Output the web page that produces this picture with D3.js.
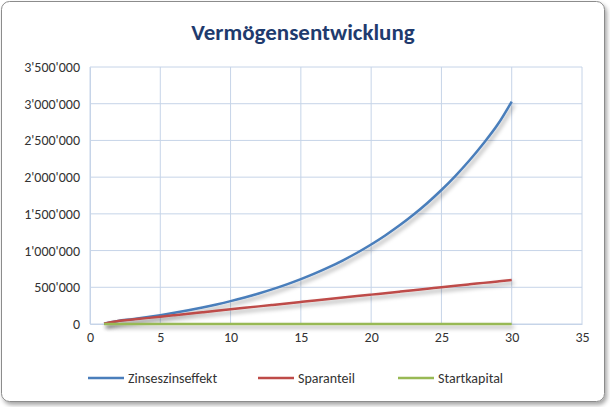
<!DOCTYPE html>
<html><head><meta charset="utf-8">
<script src="https://cdn.jsdelivr.net/npm/d3@7"></script>
<style>body{margin:0;background:#fff;font-family:Calibri,"Liberation Sans","Open Sans",sans-serif}</style>
</head><body><svg id="c" width="610" height="407"></svg>
<script>
const years = d3.range(1,31);
const zinseszins = [5000,41900,65880,92140,120900,152390,186870,224630,265970,311240,360810,415090,474530,539610,610880,688920,774370,867930,970380,1082570,1205410,1339930,1487220,1648510,1825120,2018510,2230270,2462150,2716050,3030000];
const sparanteil = [5000,40000,60000,80000,100000,120000,140000,160000,180000,200000,220000,240000,260000,280000,300000,320000,340000,360000,380000,400000,420000,440000,460000,480000,500000,520000,540000,560000,580000,600000];
const startkapital = [0,0,0,0,0,0,0,0,0,0,0,0,0,0,0,0,0,0,0,0,0,0,0,0,0,0,0,0,0,0];
const seriesNames = ["Zinseszinseffekt","Sparanteil","Startkapital"];
const colors = ["#4A7EBB","#BE4B48","#98B954"];
const xTicks = [0,5,10,15,20,25,30,35];
const yTicks = [0,500000,1000000,1500000,2000000,2500000,3000000,3500000];
const fmt = v => d3.format(",")(v).replace(/,/g,"'");

const svg = d3.select("#c");
const defs = svg.append("defs");
const f = defs.append("filter").attr("id","sh").attr("filterUnits","userSpaceOnUse")
  .attr("x",0).attr("y",0).attr("width",610).attr("height",407);
f.append("feDropShadow").attr("dx",2).attr("dy",3).attr("stdDeviation",2).attr("flood-color","#000").attr("flood-opacity",0.35);
svg.append("rect").attr("x",1.5).attr("y",1.5).attr("width",603).attr("height",400).attr("rx",8)
  .attr("fill","#fff").attr("stroke","#8c8c8c").attr("filter","url(#sh)");

const x = d3.scaleLinear().domain([0,35]).range([90,582]);
const y = d3.scaleLinear().domain([0,3500000]).range([324,67]);

svg.append("text").attr("x",303).attr("y",40).attr("text-anchor","middle")
  .attr("font-size",23).attr("font-weight","bold").attr("fill","#1F3B6E").text("Vermögensentwicklung");

svg.append("g").selectAll("line").data(yTicks).join("line")
  .attr("x1",90).attr("x2",582).attr("y1",d=>y(d)).attr("y2",d=>y(d)).attr("stroke","#C6D4E8");
svg.append("g").selectAll("line").data(xTicks).join("line")
  .attr("y1",67).attr("y2",324).attr("x1",d=>x(d)).attr("x2",d=>x(d)).attr("stroke","#C6D4E8");

const ya = svg.append("g").attr("transform","translate(90,0)")
  .call(d3.axisLeft(y).tickValues(yTicks).tickFormat(fmt).tickSize(0).tickPadding(10));
ya.select(".domain").attr("stroke","#C6D4E8");
const xa = svg.append("g").attr("transform","translate(0,324)")
  .call(d3.axisBottom(x).tickValues(xTicks).tickSize(0).tickPadding(8));
xa.select(".domain").attr("stroke","#C6D4E8");
svg.selectAll(".tick text").attr("font-size",14).attr("fill","#333").attr("font-family","Calibri,'Liberation Sans',sans-serif");

const data = [zinseszins, sparanteil, startkapital];
const line = d3.line().x((d,i)=>x(years[i])).y(d=>y(d)).curve(d3.curveMonotoneX);
[0,1,2].forEach(i=>{
  svg.append("path").attr("d",line(data[i])).attr("fill","none").attr("stroke",colors[i])
    .attr("stroke-width",2.5).attr("filter","url(#sh)");
});

const lx = [88,258,398];
seriesNames.forEach((n,i)=>{
  const g = svg.append("g").attr("transform",`translate(${lx[i]},378)`);
  g.append("line").attr("x1",0).attr("x2",36).attr("stroke",colors[i]).attr("stroke-width",2.5);
  g.append("text").attr("x",40).attr("y",5).attr("font-size",14).attr("fill","#333").text(n);
});
</script></body></html>
